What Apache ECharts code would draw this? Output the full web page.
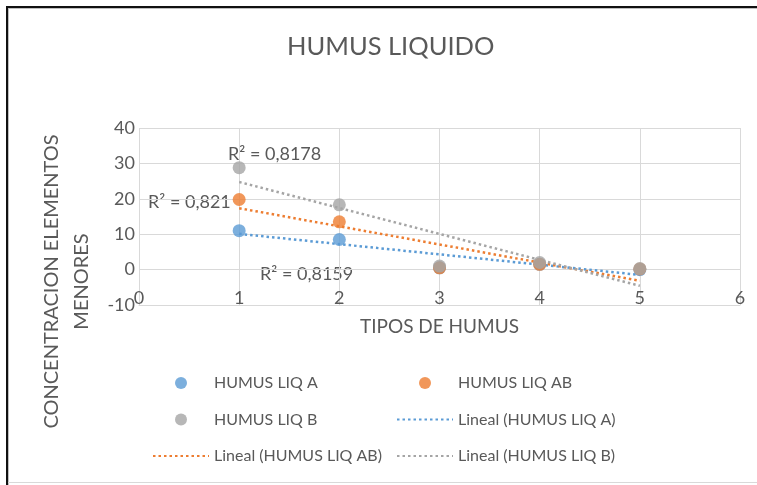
<!DOCTYPE html>
<html>
<head>
<meta charset="utf-8">
<script src="https://cdn.jsdelivr.net/npm/echarts@6/dist/echarts.min.js"></script>
<style>
  html, body { margin: 0; padding: 0; background: #ffffff; }
  #chart { width: 757px; height: 485px; }
</style>
</head>
<body>
<div id="chart"></div>
<script>
// Humus types on the x axis
const tipos = [1, 2, 3, 4, 5];
// Concentration of minor elements per liquid humus sample
const humusA  = [11.0, 8.5, 0.5, 1.5, 0.0];
const humusAB = [19.8, 13.5, 0.5, 1.5, 0.2];
const humusB  = [28.8, 18.3, 1.0, 2.0, 0.3];
// R² values shown next to the trend lines
const r2Labels = ['R\u00b2 = 0,8178', 'R\u00b2 = 0,821', 'R\u00b2 = 0,8159'];
// Axis ranges
const xTicks = { min: 0, max: 6, step: 1 };
const yTicks = { min: -10, max: 40, step: 10 };

const FONT = 'Lato, "Open Sans", sans-serif';
const TEXT = '#595959';
const colors = { A: '#5B9BD5', AB: '#ED7D31', B: '#A5A5A5' };

// Least-squares line over the samples, drawn from first to last x
function trend(xs, ys) {
  const n = xs.length;
  const mx = xs.reduce((a, b) => a + b, 0) / n;
  const my = ys.reduce((a, b) => a + b, 0) / n;
  let sxy = 0, sxx = 0;
  for (let i = 0; i < n; i++) { sxy += (xs[i] - mx) * (ys[i] - my); sxx += (xs[i] - mx) ** 2; }
  const m = sxy / sxx, b = my - m * mx;
  const x0 = xs[0], x1 = xs[n - 1];
  return [[x0, m * x0 + b], [x1, m * x1 + b]];
}
const pts = (ys) => tipos.map((x, i) => [x, ys[i]]);

function scatter(name, ys, color) {
  return {
    name, type: 'scatter', data: pts(ys), symbol: 'circle', symbolSize: 13,
    itemStyle: { color }, z: 3
  };
}
function trendLine(name, ys, color) {
  return {
    name, type: 'line', data: trend(tipos, ys), symbol: 'none', silent: true,
    lineStyle: { color, width: 2.5, type: [2.5, 3] }, itemStyle: { color }, z: 2
  };
}
// legend entry for a trend line: dotted stroke only, no marker
const lineEntry = (name) => ({ name, itemStyle: { color: 'rgba(0,0,0,0)', borderWidth: 0, opacity: 0 } });

const legendBase = {
  orient: 'vertical', itemWidth: 56, itemHeight: 12, itemGap: 18.5,
  textStyle: { fontFamily: FONT, fontSize: 16, color: TEXT, lineHeight: 18 },
  selectedMode: false
};

const chart = echarts.init(document.getElementById('chart'), null, { renderer: 'canvas' });
chart.setOption({
  backgroundColor: '#ffffff',
  animation: false,
  title: {
    text: 'HUMUS LIQUIDO', left: 282, top: 29,
    textStyle: { fontFamily: FONT, fontSize: 25.5, fontWeight: 'normal', color: TEXT }
  },
  grid: { left: 139, right: 17, top: 128, bottom: 180, containLabel: false, outerBoundsMode: 'none' },
  xAxis: {
    type: 'value', min: xTicks.min, max: xTicks.max, interval: xTicks.step,
    name: 'TIPOS DE HUMUS', nameLocation: 'middle', nameGap: 12,
    nameTextStyle: { fontFamily: FONT, fontSize: 19, color: TEXT },
    axisLine: { onZero: false, lineStyle: { color: '#D9D9D9', width: 1 } },
    axisTick: { show: false },
    axisLabel: { margin: -16, fontFamily: FONT, fontSize: 18, color: TEXT },
    splitLine: { show: true, lineStyle: { color: '#D9D9D9', width: 1 } }
  },
  yAxis: {
    type: 'value', min: yTicks.min, max: yTicks.max, interval: yTicks.step,
    name: 'CONCENTRACION ELEMENTOS\nMENORES', nameLocation: 'middle', nameGap: 42,
    nameTextStyle: { fontFamily: FONT, fontSize: 20, color: TEXT, lineHeight: 30, padding: [0, 0, 0, -130] },
    axisLine: { show: false },
    axisTick: { show: false },
    axisLabel: { margin: 4, fontFamily: FONT, fontSize: 18, color: TEXT },
    splitLine: { show: true, lineStyle: { color: '#D9D9D9', width: 1 } }
  },
  legend: [
    Object.assign({}, legendBase, {
      left: 147, top: 369,
      data: ['HUMUS LIQ A', 'HUMUS LIQ B', lineEntry('Lineal (HUMUS LIQ AB)')]
    }),
    Object.assign({}, legendBase, {
      left: 391, top: 369,
      data: ['HUMUS LIQ AB', lineEntry('Lineal (HUMUS LIQ A)'), lineEntry('Lineal (HUMUS LIQ B)')]
    })
  ],
  series: [
    trendLine('Lineal (HUMUS LIQ A)', humusA, colors.A),
    trendLine('Lineal (HUMUS LIQ AB)', humusAB, colors.AB),
    trendLine('Lineal (HUMUS LIQ B)', humusB, colors.B),
    scatter('HUMUS LIQ A', humusA, colors.A),
    scatter('HUMUS LIQ AB', humusAB, colors.AB),
    scatter('HUMUS LIQ B', humusB, colors.B)
  ],
  graphic: [
    // outer frame of the chart area
    { type: 'rect', shape: { x: 6, y: 6, width: 2, height: 479 }, style: { fill: '#111111' }, silent: true },
    { type: 'rect', shape: { x: 6, y: 6, width: 751, height: 2 }, style: { fill: '#111111' }, silent: true },
    { type: 'rect', shape: { x: 8, y: 8, width: 1, height: 477 }, style: { fill: '#BFBFBF' }, silent: true },
    { type: 'rect', shape: { x: 8, y: 8, width: 749, height: 1 }, style: { fill: '#BFBFBF' }, silent: true },
    { type: 'rect', shape: { x: 8, y: 482, width: 749, height: 1 }, style: { fill: '#D9D9D9' }, silent: true },
    // R² annotations for the trend lines
    { type: 'text', left: 228, top: 145, style: { text: r2Labels[0], font: '18px ' + FONT, fill: TEXT } },
    { type: 'text', left: 148, top: 193, style: { text: r2Labels[1], font: '18px ' + FONT, fill: TEXT } },
    { type: 'text', left: 260, top: 265, style: { text: r2Labels[2], font: '18px ' + FONT, fill: TEXT } }
  ]
});
</script>
</body>
</html>
